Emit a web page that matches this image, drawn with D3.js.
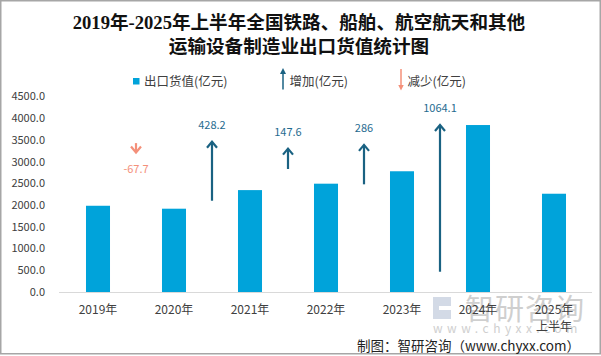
<!DOCTYPE html>
<html>
<head>
<meta charset="utf-8">
<script src="https://cdn.jsdelivr.net/npm/d3@7"></script>
<style>
html,body{margin:0;padding:0;background:#fff;}
svg{display:block;}
</style>
</head>
<body>
<script>
// ---- data ----
const categories = ["2019年","2020年","2021年","2022年","2023年","2024年","2025年"];
const exportValues = [1985.0, 1917.3, 2345.5, 2493.1, 2779.1, 3843.2, 2262.0];
const changeValues = [-67.7, 428.2, 147.6, 286, 1064.1];
const changeLabels = ["-67.7", "428.2", "147.6", "286", "1064.1"];
const arrowBase = [1080, 662, 892, 781, 147];   // start of each arrow on secondary axis
const yTicks = [0,500,1000,1500,2000,2500,3000,3500,4000,4500];
const titleLines = ["2019年-2025年上半年全国铁路、船舶、航空航天和其他","运输设备制造业出口货值统计图"];
const legendLabels = ["出口货值(亿元)","增加(亿元)","减少(亿元)"];

const W = 601, H = 356;
const BAR = "#00A3DA", UP = "#1A6282", DOWN = "#F4907A", TXT = "#404040";
const FONT = "'Noto Sans CJK SC','Noto Sans',sans-serif";

const svg = d3.select("body").append("svg").attr("width", W).attr("height", H);

// border
svg.append("rect").attr("x",0.75).attr("y",0.75).attr("width",W-1.5).attr("height",353)
  .attr("fill","#fff").attr("stroke","#a6a6a6").attr("stroke-width",1.5);

// arrow head defs (legend)
const defs = svg.append("defs");
[["upHead",UP],["downHead",DOWN]].forEach(([id,c])=>{
  defs.append("marker").attr("id",id).attr("viewBox","0 0 10 10").attr("refX",5).attr("refY",5)
    .attr("markerWidth",4).attr("markerHeight",4).attr("orient","auto")
    .append("path").attr("d","M0,0 L10,5 L0,10 z").attr("fill",c);
});

// title
svg.append("g").selectAll("text").data(titleLines).join("text")
  .attr("x", 299).attr("y",(d,i)=>29+i*24)
  .attr("text-anchor","middle").attr("font-family","'Liberation Serif','Noto Sans CJK SC',serif")
  .attr("font-weight","bold").attr("font-size",18.6).attr("fill","#111").text(d=>d);

// scales
const x = d3.scaleBand().domain(categories).range([60,592]).paddingInner(0.684).paddingOuter(0.342);
const y = d3.scaleLinear().domain([0,4500]).range([292,96.5]);
const y2 = d3.scaleLinear().domain([0,1418]).range([292,96.5]);

// watermark
const wm = svg.append("g");
wm.append("path").attr("d","M433,297 h18 v9 h-12 v4 h12 v9 h-18 z")
  .attr("fill","#d3dae6").attr("stroke","none");
wm.append("text").attr("x",465).attr("y",320).attr("font-family",FONT).attr("font-size",29)
  .attr("fill","#cfcfcf").attr("letter-spacing",1).text("智研咨询");
wm.append("text").attr("x",433).attr("y",333).attr("font-family",FONT).attr("font-size",12)
  .attr("fill","#cfcfcf").attr("letter-spacing",4.5).text("www.chyxx.com");

// y axis labels
svg.append("g").selectAll("text").data(yTicks).join("text")
  .attr("x",45).attr("y",d=>y(d)).attr("dy","0.35em").attr("text-anchor","end")
  .attr("font-family",FONT).attr("font-size",11).attr("fill",TXT).text(d=>d3.format(".1f")(d));

// bars
svg.append("g").selectAll("rect").data(exportValues).join("rect")
  .attr("x",(d,i)=>x(categories[i])).attr("width",x.bandwidth())
  .attr("y",d=>y(d)).attr("height",d=>y(0)-y(d)).attr("fill",BAR);

// axis line
svg.append("line").attr("x1",59).attr("x2",592).attr("y1",y(0)+0.5).attr("y2",y(0)+0.5)
  .attr("stroke","#d9d9d9").attr("stroke-width",1);

// x labels
svg.append("g").selectAll("text").data(categories).join("text")
  .attr("x",d=>x(d)+x.bandwidth()/2).attr("y",310).attr("dy","0.35em").attr("text-anchor","middle")
  .attr("font-family",FONT).attr("font-size",12).attr("fill",TXT).text(d=>d);
svg.append("text").attr("x",x(categories[6])+x.bandwidth()/2).attr("y",327).attr("dy","0.35em")
  .attr("text-anchor","middle").attr("font-family",FONT).attr("font-size",12).attr("fill",TXT).text("上半年");

// change arrows
const ag = svg.append("g");
changeValues.forEach((v,i)=>{
  const cx = (x(categories[i]) + x(categories[i+1]))/2 + x.bandwidth()/2;
  const y0 = y2(arrowBase[i]), y1 = y2(arrowBase[i]+v);
  const up = v >= 0, col = up ? UP : DOWN;
  ag.append("line").attr("x1",cx).attr("x2",cx).attr("y1",y0).attr("y2",y1+(up?1:-1))
    .attr("stroke",col).attr("stroke-width",2.2);
  const hs = up ? 1 : -1;
  ag.append("path").attr("d",`M${cx-5},${y1+hs*6} L${cx},${y1} L${cx+5},${y1+hs*6}`)
    .attr("fill","none").attr("stroke",col).attr("stroke-width",2.2).attr("stroke-linejoin","miter");
  ag.append("text").attr("x",cx).attr("y", up ? y1-17 : y1+17).attr("dy","0.35em")
    .attr("text-anchor","middle").attr("font-family",FONT).attr("font-size",11)
    .attr("fill", up ? "#1F6B90" : DOWN).text(changeLabels[i]);
});

// legend
const lg = svg.append("g").attr("font-family",FONT).attr("font-size",12.5).attr("fill",TXT);
lg.append("rect").attr("x",133).attr("y",78).attr("width",6.5).attr("height",6.5).attr("fill",BAR);
lg.append("text").attr("x",144).attr("y",81.5).attr("dy","0.35em").text(legendLabels[0]);
lg.append("line").attr("x1",283).attr("x2",283).attr("y1",89.5).attr("y2",71)
  .attr("stroke",UP).attr("stroke-width",1.5).attr("marker-end","url(#upHead)");
lg.append("text").attr("x",289.5).attr("y",81.5).attr("dy","0.35em").text(legendLabels[1]);
lg.append("line").attr("x1",401).attr("x2",401).attr("y1",69).attr("y2",87.5)
  .attr("stroke",DOWN).attr("stroke-width",1.5).attr("marker-end","url(#downHead)");
lg.append("text").attr("x",407.5).attr("y",81.5).attr("dy","0.35em").text(legendLabels[2]);

// source
svg.append("text").attr("x",580).attr("y",346).attr("dy","0.35em").attr("text-anchor","end")
  .attr("font-family",FONT).attr("font-size",13.5).attr("fill","#222").text("制图：智研咨询（www.chyxx.com）");
</script>
</body>
</html>
